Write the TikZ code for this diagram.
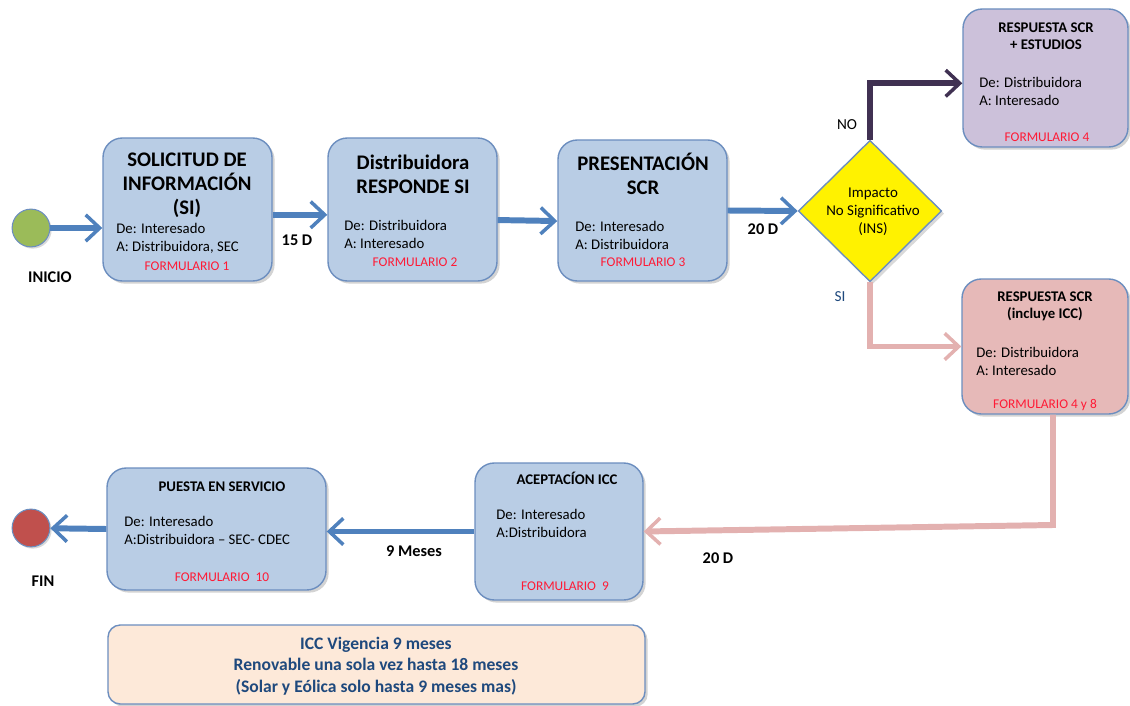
\documentclass[tikz,border=0pt]{standalone}
\usepackage{fontspec}
\setmainfont{Carlito}
\usetikzlibrary{arrows.meta,positioning,shapes.geometric,shadows,fit}

\definecolor{boxfill}{HTML}{B9CDE5}
\definecolor{boxline}{HTML}{6C8EBF}
\definecolor{flowblue}{HTML}{4F81BD}
\definecolor{lilac}{HTML}{CCC1DA}
\definecolor{rose}{HTML}{E6B9B8}
\definecolor{roseline}{HTML}{E3B1B0}
\definecolor{plum}{HTML}{403152}
\definecolor{startgreen}{HTML}{9BBB59}
\definecolor{endred}{HTML}{C0504D}
\definecolor{peach}{HTML}{FDE9D9}
\definecolor{notetext}{HTML}{1F497D}
\definecolor{formred}{HTML}{FF1A35}

\begin{document}
\begin{tikzpicture}[x=0.02cm, y=-0.02cm,
  stepbox/.style={draw=boxline, line width=0.8pt, fill=boxfill, rounded corners=11pt, inner sep=0pt,
    drop shadow={shadow xshift=1.5pt, shadow yshift=-1.5pt, opacity=0.35}},
  note/.style={draw=boxline, line width=0.8pt, fill=peach, rounded corners=7pt, inner sep=0pt,
    drop shadow={shadow xshift=1.5pt, shadow yshift=-1.5pt, opacity=0.35}},
  decision/.style={diamond, draw=boxline, line width=0.8pt, fill=yellow, minimum width=81.6pt,
    minimum height=80.5pt, inner sep=0pt, drop shadow={shadow xshift=1.5pt, shadow yshift=-1.5pt, opacity=0.3}},
  startend/.style={circle, draw=boxline, line width=0.6pt, minimum size=21.5pt, inner sep=0pt,
    drop shadow={shadow xshift=1pt, shadow yshift=-1pt, opacity=0.3}},
  ttl/.style={align=center, inner sep=0pt, font=\bfseries\fontsize{11.8}{13.6}\selectfont},
  sttl/.style={align=center, inner sep=0pt, font=\bfseries\fontsize{8.4}{9.8}\selectfont},
  body/.style={align=left, anchor=west, inner sep=0pt, font=\fontsize{8.4}{10.2}\selectfont},
  form/.style={inner sep=0pt, text=formred, font=\fontsize{7.6}{9}\selectfont},
  dtext/.style={align=center, inner sep=0pt, font=\fontsize{8.5}{10.2}\selectfont},
  lbl/.style={inner sep=0pt, font=\bfseries\fontsize{9.3}{11}\selectfont},
  ann/.style={inner sep=0pt, font=\fontsize{8.7}{10}\selectfont},
  flow/.style={draw=flowblue, line width=3.4pt, -{Straight Barb[length=8pt, width=15pt, line width'=2pt]}}
]
\useasboundingbox (0,0) rectangle (1130,706);

% start and the first three steps
\node[startend, fill=startgreen] (ini) at (31,228) {};
\node[lbl] (inil) at (50,277) {INICIO};

\node[stepbox, fit={(103,138) (272,281)}] (sol) {};
\node[ttl] (solt) at (187,185) {SOLICITUD DE\\INFORMACIÓN\\(SI)};
\node[body] (solb) at (116,238) {De: Interesado\\A: Distribuidora, SEC};
\node[form] (solf) at (187,266) {FORMULARIO 1};

\node[stepbox, fit={(328,138) (497,281)}] (resp) {};
\node[ttl] (respt) at (413,174) {Distribuidora\\RESPONDE SI};
\node[body] (respb) at (344,234) {De: Distribuidora\\A: Interesado};
\node[form] (respf) at (415,262) {FORMULARIO 2};

\node[stepbox, fit={(558,140) (727,281)}] (pres) {};
\node[ttl] (prest) at (643,174) {PRESENTACIÓN\\SCR};
\node[body] (presb) at (575,235) {De: Interesado\\A: Distribuidora};
\node[form] (presf) at (643,262) {FORMULARIO 3};

% decision and its two answers
\node[decision] (ins) at (870,211) {};
\node[dtext] (inst) at (873,212) {Impacto\\No Significativo\\(INS)};

\node[stepbox, fill=lilac, fit={(963,9) (1128,147)}] (est) {};
\node[sttl] (estt) at (1046,36) {RESPUESTA SCR\\+ ESTUDIOS};
\node[body] (estb) at (979,91) {De: Distribuidora\\A: Interesado};
\node[form] (estf) at (1047,137) {FORMULARIO 4};

\node[stepbox, fill=rose, fit={(962,279) (1128,414)}] (icc) {};
\node[sttl] (icct) at (1045,306) {RESPUESTA SCR\\(incluye ICC)};
\node[body] (iccb) at (976,361) {De: Distribuidora\\A: Interesado};
\node[form] (iccf) at (1045,405) {FORMULARIO 4 y 8};

% lower row
\node[stepbox, fit={(475,463) (643,600)}] (acep) {};
\node[sttl] (acept) at (567,478) {ACEPTACÍON ICC};
\node[body] (acepb) at (496,523) {De: Interesado\\A:Distribuidora};
\node[form] (acepf) at (565,586) {FORMULARIO\ \ 9};

\node[stepbox, fit={(107,468) (326,590)}] (serv) {};
\node[sttl] (servt) at (222,487) {PUESTA EN SERVICIO};
\node[body] (servb) at (124,530) {De: Interesado\\A:Distribuidora -- SEC- CDEC};
\node[form] (servf) at (222,577) {FORMULARIO\ \ 10};

\node[startend, fill=endred] (fin) at (31,528) {};
\node[lbl] (finl) at (43,581) {FIN};

\node[note, fit={(108,625) (645,704)}] (vig) {};
\node[align=center, inner sep=0pt, text=notetext, font=\bfseries\fontsize{10}{12.2}\selectfont] (vigt) at (376,666)
  {ICC Vigencia 9 meses\\Renovable una sola vez hasta 18 meses\\(Solar y Eólica solo hasta 9 meses mas)};

% times and answers
\node[lbl] (d15) at (297,240) {15 D};
\node[lbl] (d20a) at (763,229) {20 D};
\node[lbl] (d20b) at (718,558) {20 D};
\node[lbl] (m9) at (414,551) {9 Meses};
\node[ann] (ano) at (847,125) {NO};
\node[ann, text=notetext] (asi) at (840,297) {SI};

\coordinate (turn) at (1053,525);

\draw[flow] (ini) -- (ini -| sol.west);
\draw[flow] ([yshift=-3pt]sol.east) -- ([yshift=-3pt]resp.west);
\draw[flow] ([yshift=-6pt]resp.east) -- ([yshift=-6pt]pres.west);
\draw[flow] (pres.east) -- (ins.west);
\draw[flow, draw=plum] (ins.north) |- ([yshift=-3pt]est.west);
\draw[flow, draw=roseline] (ins.south) |- (icc.west);
\draw[flow, draw=roseline] (icc.south -| turn) -- (turn) -- (acep.east);
\draw[flow] (acep.west) -- (acep.west -| serv.east);
\draw[flow] (serv.west) -- (fin);
\end{tikzpicture}
\end{document}
